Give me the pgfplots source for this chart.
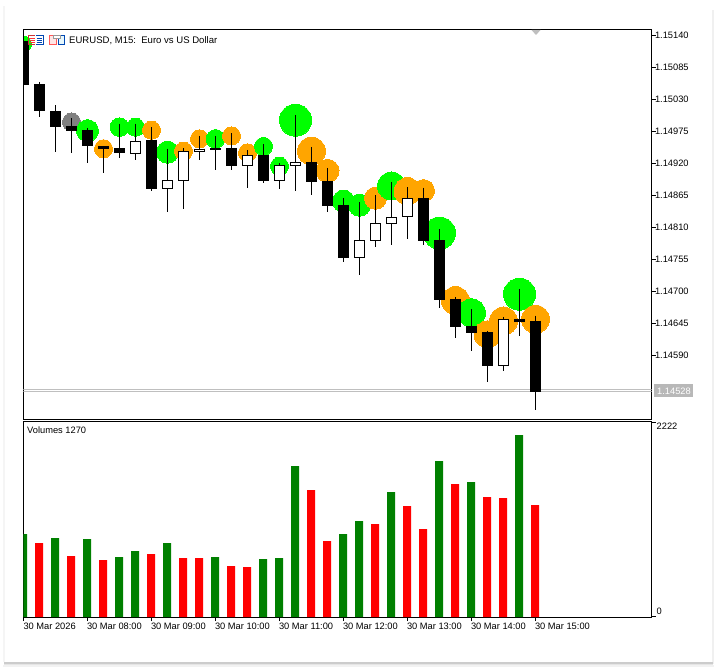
\documentclass[border=0pt]{standalone}
\usepackage{pgfplots}
\pgfplotsset{compat=1.18}
\usepackage{pgfplotstable}
\usepackage{fontspec}
\setmainfont{Liberation Sans}
% Prices are kept in points above 1.14000 (810 = 1.14810)
\pgfplotstableread{
x h t b l
0 1130 1130 1055 1054
1 1060 1056 1009 1000
2 1020 1010 983 939
3 997 984 975 938
4 981 977 949 920
5 950 950 945 903
6 988 946 938 929
7 988 959 936 926
8 982 960 876 872
9 945 891 876 836
10 946 941 890 841
11 967 945 940 926
12 967 946 943 908
13 972 946 915 908
14 943 934 916 877
15 953 934 890 886
16 920 917 890 876
17 1003 922 916 872
18 948 922 888 865
19 912 890 847 836
20 860 848 757 750
21 853 788 758 728
22 865 817 787 776
23 888 827 816 780
24 879 860 827 790
25 878 860 786 780
26 807 788 685 671
27 690 687 639 620
28 670 640 628 597
29 632 630 572 544
30 656 652 572 563
31 704 652 647 623
32 658 649 527 496
}\candles
\pgfplotstableread{
x t b
7 959 936
9 891 876
10 941 890
11 945 940
14 934 916
16 917 890
17 922 916
21 788 758
22 817 787
23 827 816
24 860 827
30 652 572
}\whitecandles
\pgfplotstableread{
x y r c
0 1125 8 2
3 991 9 0
4 976 11 2
5 945 9 1
6 982 9.3 2
7 982 9 2
8 977 9 1
9 939 11 2
10 941 9 1
11 962 9 1
12 962 9.3 2
13 967 9 1
14 938 9 1
15 949 9 2
16 915 9 2
17 994 16 2
18 941 14 1
19 907 11.5 1
20 855 11 2
21 848 11 2
22 860 11 1
23 881 14 2
24 872 13.5 1
25 873 11 1
26 800 16 2
27 684 14 1
28 663 14 2
29 626 13.5 1
30 649 14 1
31 695 16 2
32 652 14 1
}\bubbles
\pgfplotstableread{
x v
0 941
2 896
4 885
6 680
7 748
9 839
12 680
15 658
16 669
17 1712
20 941
21 1089
23 1418
26 1769
28 1531
31 2064
}\volup
\pgfplotstableread{
x v
1 839
3 692
5 646
8 714
10 669
11 669
13 578
14 567
18 1440
19 862
22 1055
24 1259
25 998
27 1508
29 1361
30 1349
32 1270
}\voldown
\definecolor{volg}{RGB}{0,128,0}
\newcommand{\lab}{\fontsize{9.3}{11}\selectfont}
\begin{document}
\begin{tikzpicture}[x=1pt,y=1pt]
% page and its soft shadow
\path[fill=white] (0,0) rectangle (715,670);
\fill[black!4] (3,8) rectangle (4.5,664);
\fill[black!6] (711.7,6) rectangle (714,660);
\fill[black!5] (3,3) rectangle (714,5);
\fill[black!10] (3.5,5) rectangle (713,6.5);
\fill[black!20] (4,6.5) rectangle (712.5,8.3);
\pgfplotsset{every tick/.style={black,line width=0.9pt},
  axis line style={line width=1pt},
  tick label style={font=\lab}}
% bubbles lie under the candles: their own axis, same frame and scales
\begin{axis}[at={(23.5pt,250.5pt)},anchor=south west,scale only axis,
  width=628pt,height=390pt,
  xmin=0,xmax=39.25,ymin=479.7,ymax=1149.9,
  axis lines=none,clip marker paths=true,
  colormap={mt}{rgb255(0)=(128,128,128); rgb255(1)=(255,165,0); rgb255(2)=(0,255,0)},
  point meta min=0,point meta max=2]
\addplot[scatter,only marks,mark=*,point meta=explicit,
  scatter/use mapped color={draw=mapped color,fill=mapped color,line width=0pt},
  visualization depends on={\thisrow{r} \as \rr},
  scatter/@pre marker code/.append style={/tikz/mark size=\rr pt}]
  table[x=x,y=y,meta=c]{\bubbles};
\end{axis}
\begin{axis}[name=main,at={(23.5pt,250.5pt)},anchor=south west,scale only axis,
  width=628pt,height=390pt,
  xmin=0,xmax=39.25,ymin=479.7,ymax=1149.9,
  xtick=\empty,
  ytick={1140,1085,1030,975,920,865,810,755,700,645,590},
  yticklabels={1.15140,1.15085,1.15030,1.14975,1.14920,1.14865,1.14810,1.14755,1.14700,1.14645,1.14590},
  ytick pos=right,yticklabel pos=right,tick align=outside,
  major tick length=4pt,
  yticklabel style={anchor=west,xshift=-4pt}]
\addplot[color=black!25,line width=1pt] coordinates {(0,528)(39.25,528)};
\addplot[color=black!25,line width=1pt] coordinates {(0,532)(39.25,532)};
\addplot[draw=none,mark=none,error bars/.cd,y dir=minus,y explicit,error mark=none,
  error bar style={draw=black,solid,line width=1pt}]
  table[x=x,y=h,y error minus expr=\thisrow{h}-\thisrow{l}]{\candles};
\addplot[draw=none,mark=none,error bars/.cd,y dir=minus,y explicit,error mark=none,
  error bar style={draw=black,solid,line width=11pt}]
  table[x=x,y=t,y error minus expr=\thisrow{t}-\thisrow{b}]{\candles};
\addplot[draw=none,mark=none,error bars/.cd,y dir=minus,y explicit,error mark=none,
  error bar style={draw=white,solid,line width=9pt}]
  table[x=x,y expr=\thisrow{t}-1.7,y error minus expr=\thisrow{t}-\thisrow{b}-3.4]{\whitecandles};
\end{axis}
\begin{axis}[name=vol,at={(23.5pt,52.8pt)},anchor=south west,scale only axis,
  width=628pt,height=196pt,
  xmin=0.03,xmax=39.28,ymin=0,ymax=2222,
  xtick={0.03,4,8,12,16,20,24,28,32},
  xticklabels={30 Mar 2026,30 Mar 08:00,30 Mar 09:00,30 Mar 10:00,30 Mar 11:00,30 Mar 12:00,30 Mar 13:00,30 Mar 14:00,30 Mar 15:00},
  xtick pos=bottom,tick align=outside,major tick length=4pt,
  xticklabel style={anchor=north west,xshift=-3.5pt,yshift=1.5pt},
  ytick=\empty,
  ybar,bar width=8pt,bar shift=0pt]
\addplot[fill=volg,draw=none] table[x=x,y=v]{\volup};
\addplot[fill=red,draw=none] table[x=x,y=v]{\voldown};
\end{axis}
% right-hand ticks of the volume panel
\draw[line width=0.9pt] (651.5,248) -- (655.5,248) (651.5,53.2) -- (655.5,53.2);
% header, values beside the panels
\node[anchor=west,inner sep=0,font=\fontsize{9.55}{11}\selectfont] at (69,629.5) {EURUSD, M15:\ \ Euro vs US Dollar};
\node[anchor=west,inner sep=0,font=\lab] at (27,239.5) {Volumes 1270};
\node[anchor=west,inner sep=0,font=\lab] at (656.5,243.5) {2222};
\node[anchor=west,inner sep=0,font=\lab] at (656.5,58.5) {0};
\fill[black!28] (654,273) rectangle (693,286);
\node[anchor=west,inner sep=0,font=\lab,text=white] at (657,279) {1.14528};
% last-bar marker on the top edge
\fill[black!25] (531.5,640) -- (540.5,640) -- (536,635) -- cycle;
% toolbar icons
\begin{scope}[line width=0.9pt]
\draw[red!75!black!80] (35,634.5) -- (28.5,634.5) -- (28.5,625.5) -- (35,625.5);
\draw[red!80] (29.5,632) -- (35,632) (29.5,630) -- (35,630) (29.5,628) -- (35,628);
\draw[blue!60!cyan!70!black] (36,634.5) -- (43,634.5) -- (43,625.5) -- (36,625.5);
\draw[blue!60!cyan!70!black] (36.5,632) -- (42,632) (36.5,630) -- (42,630) (36.5,628) -- (42,628);
\draw[red!65,fill=red!10] (49.5,625.5) rectangle (56,634.5);
\draw[blue!60!cyan!70!black,fill=cyan!10] (58,625.5) rectangle (64,634.5);
\draw[black!40,fill=white] (53,632) rectangle (60,635);
\end{scope}
\end{tikzpicture}
\end{document}
